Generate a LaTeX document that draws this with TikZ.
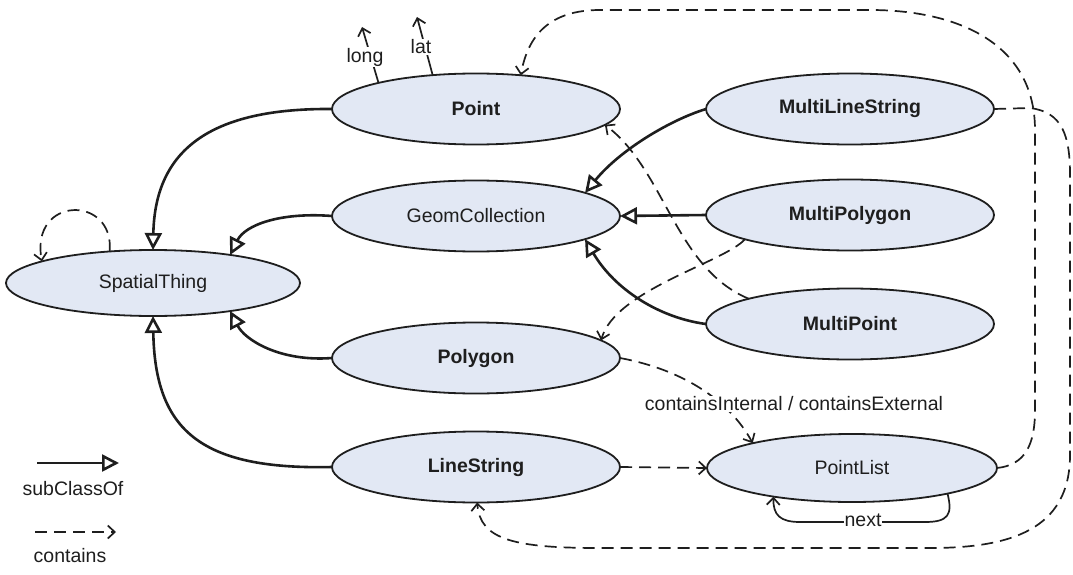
\documentclass[tikz,border=0pt]{standalone}
\usepackage{fontspec}
\setmainfont{Liberation Sans}
\usetikzlibrary{arrows.meta,shapes.geometric}
\definecolor{clsfill}{RGB}{226,232,244}
\definecolor{ink}{RGB}{30,30,30}
\tikzset{
  txt/.style={text=ink, font=\fontsize{19.5}{23}\selectfont},
  cls/.style={ellipse, draw=ink, line width=1.8pt, fill=clsfill, inner sep=0pt, outer sep=0pt, txt},
  wide/.style={cls, minimum width=288pt, minimum height=71pt},
  strong/.style={font=\fontsize{19.5}{23}\selectfont\bfseries},
  isa/.style={draw=ink, line width=2.6pt, -{Triangle[fill=white, length=17pt, width=17pt]}},
  has/.style={draw=ink, line width=1.7pt, dash pattern=on 12pt off 7pt, -{Straight Barb[length=7pt, width=13pt]}},
  link/.style={draw=ink, line width=1.7pt, -{Straight Barb[length=7pt, width=13pt]}},
  lbl/.style={txt, fill=white, inner sep=1pt},
}
\begin{document}
\begin{tikzpicture}[x=1pt, y=-1pt]
\useasboundingbox (0,0) rectangle (1073,575);

% classes
\node[cls, minimum width=294pt, minimum height=66pt] (Spatial) at (153,283) {SpatialThing};
\node[wide, strong] (Point) at (476,109) {Point};
\node[wide] (Geom) at (476,216) {GeomCollection};
\node[wide, strong] (Polygon) at (476,358) {Polygon};
\node[wide, strong] (LineString) at (476,467) {LineString};
\node[wide, strong] (MLS) at (850,109) {MultiLineString};
\node[wide, strong] (MPoly) at (850,215) {MultiPolygon};
\node[wide, strong] (MPoint) at (850,324) {MultiPoint};
\node[cls, minimum width=290pt, minimum height=68pt] (PointList) at (852,468) {PointList};

% subClassOf
\draw[isa] (Point.west) .. controls (210,108) and (155,150) .. (Spatial.90);
\draw[isa] (Geom.west) .. controls (280,212) and (245,225) .. (Spatial.20.7);
\draw[isa] (Polygon.west) .. controls (280,362) and (245,340) .. (Spatial.-20.7);
\draw[isa] (LineString.west) .. controls (200,470) and (155,430) .. (Spatial.-90);
\draw[isa] (MLS.west) .. controls (670,120) and (620,150) .. (Geom.12.6);
\draw[isa] (MPoly.west) -- (Geom.east);
\draw[isa] (MPoint.west) .. controls (660,318) and (615,290) .. (Geom.-12.6);

% contains
\draw[has] (Spatial.144.2) .. controls (115,195) and (30,195) .. (Spatial.169.3);
\draw[has] (PointList.east) .. controls (1025,465) and (1035,445) .. (1035,410)
  -- (1035,130) .. controls (1035,45) and (960,10) .. (870,10)
  -- (600,10) .. controls (550,10) and (528,35) .. (Point.37);
\draw[has] (MLS.east) -- (1030,108) .. controls (1062,112) and (1070,135) .. (1070,175)
  -- (1070,455) .. controls (1070,530) and (1010,548) .. (930,548)
  -- (600,548) .. controls (515,548) and (480,540) .. (LineString.-88);
\draw[has] (MPoly.193.4) .. controls (725,262) and (615,290) .. (Polygon.8.4);
\draw[has] (MPoint.166.1) .. controls (675,268) and (665,170) .. (Point.-7.6);
\draw[has] (Polygon.east) .. controls (695,372) and (735,410) .. (PointList.166.2);
\draw[has] (LineString.east) -- (PointList.west);
\node[lbl] (cie) at (794,404) {containsInternal / containsExternal};

% next
\draw[link] (PointList.-15.1) .. controls (953,515) and (948,522) .. (925,522)
  -- (800,522) .. controls (780,522) and (773,515) .. (PointList.200.8);
\node[lbl] (next) at (863,520) {next};

% attributes of Point
\coordinate (longEnd) at (362,27);
\coordinate (latEnd) at (417,17);
\draw[link] (Point.165.2) -- (longEnd);
\draw[link] (Point.142.9) -- (latEnd);
\node[lbl] (long) at (365,57) {long};
\node[lbl] (lat) at (421,47) {lat};

% legend
\coordinate (subA) at (37,463);
\coordinate (subB) at (119,463);
\coordinate (hasA) at (35,532);
\coordinate (hasB) at (116,532);
\draw[isa] (subA) -- (subB);
\draw[has] (hasA) -- (hasB);
\node[txt] (subLbl) at (73,489) {subClassOf};
\node[txt] (hasLbl) at (70,556) {contains};
\end{tikzpicture}
\end{document}
